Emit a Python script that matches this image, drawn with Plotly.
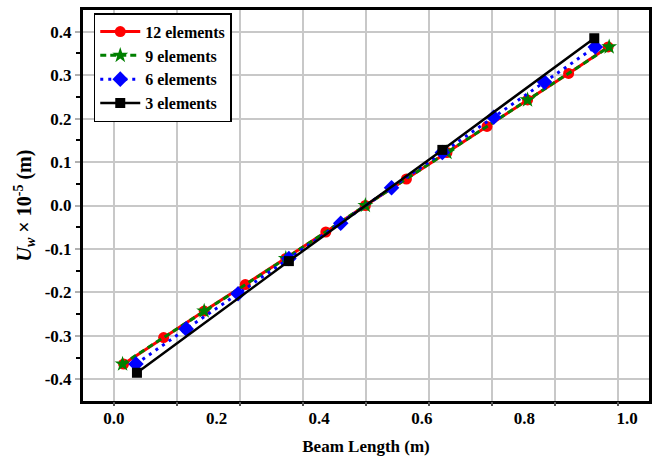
import plotly.graph_objects as go

# ---- data ----
x_12 = [0.019, 0.097, 0.176, 0.256, 0.335, 0.413, 0.490, 0.570, 0.649, 0.727, 0.806, 0.886, 0.963]
y_12 = [-0.365, -0.304, -0.243, -0.182, -0.122, -0.061, 0.0, 0.061, 0.122, 0.182, 0.243, 0.304, 0.365]

x_9 = [0.017, 0.176, 0.335, 0.490, 0.649, 0.806, 0.965]
y_9 = [-0.365, -0.243, -0.122, 0.0, 0.122, 0.243, 0.365]

x_6 = [0.043, 0.141, 0.242, 0.341, 0.442, 0.541, 0.640, 0.740, 0.839, 0.938]
y_6 = [-0.365, -0.284, -0.203, -0.122, -0.041, 0.041, 0.122, 0.203, 0.284, 0.365]

x_3 = [0.045, 0.341, 0.640, 0.936]
y_3 = [-0.385, -0.128, 0.128, 0.385]

x_tickvals = [0.0, 0.2, 0.4, 0.6, 0.8, 1.0]
x_ticktext = ["0.0", "0.2", "0.4", "0.6", "0.8", "1.0"]
y_tickvals = [-0.4, -0.3, -0.2, -0.1, 0.0, 0.1, 0.2, 0.3, 0.4]
y_ticktext = ["-0.4", "-0.3", "-0.2", "-0.1", "0.0", "0.1", "0.2", "0.3", "0.4"]
y_minor = [-0.35, -0.25, -0.15, -0.05, 0.05, 0.15, 0.25, 0.35]
grid_x = [0.5, 1.5, 2.5, 3.5, 4.5, 5.5, 6.5, 7.5, 8.5]

FONT = "Liberation Serif"

fig = go.Figure()

# invisible trace so the gridline overlay axis exists
fig.add_trace(go.Scatter(x=[None], y=[None], xaxis="x2", yaxis="y",
                         showlegend=False, hoverinfo="skip"))

fig.add_trace(go.Scatter(
    x=x_12, y=y_12, name="12 elements", mode="lines+markers",
    line=dict(color="#ff0000", width=3),
    marker=dict(symbol="circle", size=11, color="#ff0000")))
fig.add_trace(go.Scatter(
    x=x_9, y=y_9, name="9 elements", mode="lines+markers",
    line=dict(color="#008000", width=3, dash="6px,4px"),
    marker=dict(symbol="star", size=12, color="#008000")))
fig.add_trace(go.Scatter(
    x=x_6, y=y_6, name="6 elements", mode="lines+markers",
    line=dict(color="#0000ff", width=3, dash="3px,5px"),
    marker=dict(symbol="diamond", size=12, color="#0000ff")))
fig.add_trace(go.Scatter(
    x=x_3, y=y_3, name="3 elements", mode="lines+markers",
    line=dict(color="#000000", width=2.5),
    marker=dict(symbol="square", size=10, color="#000000")))

fig.update_layout(
    width=659, height=463,
    margin=dict(l=83, r=7, t=7, b=62),
    paper_bgcolor="white", plot_bgcolor="white",
    font=dict(family=FONT, color="black"),
    showlegend=True,
    legend=dict(
        x=0.019, y=0.992, xanchor="left", yanchor="top",
        bgcolor="white", bordercolor="black", borderwidth=1.5,
        font=dict(family=FONT, size=16, color="black", weight="bold"),
        tracegroupgap=0, itemwidth=40,
    ),
    xaxis=dict(
        range=[-0.0601, 1.0426],
        tickmode="array", tickvals=x_tickvals, ticktext=x_ticktext,
        showgrid=False, zeroline=False,
        showline=True, linewidth=3, linecolor="black", mirror=True,
        ticks="",
        tickfont=dict(family=FONT, size=17, weight="bold"),
        title=dict(text="<b>Beam Length (m)</b>",
                   font=dict(family=FONT, size=17), standoff=13),
    ),
    xaxis2=dict(
        overlaying="x", anchor="y", side="bottom",
        range=[0, 9],
        tickmode="array", tickvals=grid_x,
        showticklabels=False, showgrid=True,
        gridcolor="#c8c8c8", gridwidth=1.5,
        zeroline=False, showline=False,
        ticks="outside", ticklen=4, tickcolor="#555555", tickwidth=1.5,
    ),
    yaxis=dict(
        range=[-0.45, 0.45],
        tickmode="array", tickvals=y_tickvals, ticktext=y_ticktext,
        showgrid=True, gridcolor="#c8c8c8", gridwidth=1.5,
        zeroline=False,
        showline=True, linewidth=3, linecolor="black", mirror=True,
        ticks="outside", ticklen=5, tickcolor="#b0b0b0", tickwidth=1.5,
        minor=dict(tickvals=y_minor, ticks="outside", ticklen=4,
                   tickcolor="black", tickwidth=1.5, showgrid=False),
        tickfont=dict(family=FONT, size=17, weight="bold"),
        title=dict(text="<b><i>U</i><sub><i>w</i></sub> × 10<sup>-5</sup> (m)</b>",
                   font=dict(family=FONT, size=20), standoff=8),
    ),
)

fig.write_html("out.html")
